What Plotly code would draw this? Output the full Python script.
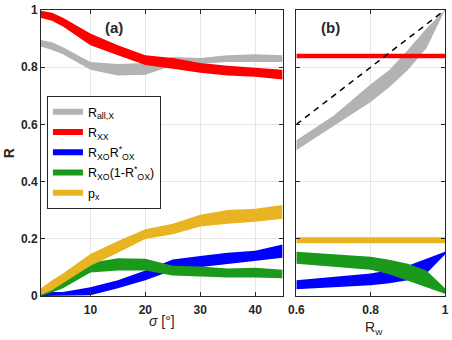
import plotly.graph_objects as go

##########
# Data   #
##########
# panel (a): sigma in degrees
sigma = [1, 3, 5, 10, 15, 20, 25, 30, 35, 40, 45]

r_all_hi = [0.895, 0.887, 0.870, 0.818, 0.811, 0.815, 0.836, 0.832, 0.842, 0.845, 0.842]
r_all_lo = [0.872, 0.860, 0.845, 0.791, 0.771, 0.774, 0.805, 0.812, 0.818, 0.818, 0.818]

r_xx_hi = [0.997, 0.990, 0.973, 0.918, 0.877, 0.842, 0.832, 0.815, 0.805, 0.798, 0.791]
r_xx_lo = [0.972, 0.962, 0.942, 0.877, 0.842, 0.808, 0.795, 0.781, 0.771, 0.767, 0.757]

r_xo_hi = [0.014, 0.014, 0.014, 0.031, 0.055, 0.089, 0.128, 0.140, 0.151, 0.158, 0.180]
r_xo_lo = [0.000, 0.000, 0.000, 0.003, 0.027, 0.055, 0.090, 0.103, 0.113, 0.123, 0.134]

r_xo1_hi = [0.010, 0.030, 0.048, 0.116, 0.132, 0.130, 0.106, 0.103, 0.096, 0.099, 0.092]
r_xo1_lo = [0.000, 0.012, 0.027, 0.082, 0.089, 0.089, 0.072, 0.068, 0.065, 0.065, 0.062]

p_x_hi = [0.027, 0.055, 0.079, 0.147, 0.192, 0.233, 0.253, 0.284, 0.301, 0.305, 0.318]
p_x_lo = [0.004, 0.020, 0.045, 0.106, 0.151, 0.199, 0.216, 0.243, 0.253, 0.260, 0.270]

# panel (b): R_w
rw = [0.6, 0.7, 0.8, 0.85, 0.9, 0.95, 1.0]

b_all_hi = [0.545, 0.630, 0.740, 0.790, 0.860, 0.935, 1.0]
b_all_lo = [0.510, 0.595, 0.678, 0.730, 0.790, 0.866, 1.0]

b_xx = [0.839] * len(rw)
b_px = [0.195] * len(rw)

b_xo_hi = [0.055, 0.066, 0.079, 0.090, 0.106, 0.130, 0.155]
b_xo_lo = [0.024, 0.030, 0.038, 0.045, 0.055, 0.079, 0.145]

b_xo1_hi = [0.155, 0.147, 0.137, 0.127, 0.113, 0.089, 0.027]
b_xo1_lo = [0.113, 0.103, 0.092, 0.076, 0.055, 0.031, 0.008]

diag = [0.6, 1.0]

##########
# Colors #
##########
colors = {
    'all': '#b3b3b3',
    'xx': '#ff0000',
    'xo': '#0000ff',
    'xo1': '#1a991a',
    'px': '#e8b422',
}

names = {
    'all': 'R<sub>all,X</sub>',
    'xx': 'R<sub>XX</sub>',
    'xo': 'R<sub>XO</sub>R<sup>*</sup><sub>OX</sub>',
    'xo1': 'R<sub>XO</sub>(1-R<sup>*</sup><sub>OX</sub>)',
    'px': 'p<sub>x</sub>',
}


def band(x, hi, lo, color, xa, ya):
    return go.Scatter(
        x = x + x[::-1], y = hi + lo[::-1],
        fill = 'toself', fillcolor = color, mode = 'lines',
        line = dict(width = 0, color = color),
        xaxis = xa, yaxis = ya, showlegend = False, hoverinfo = 'skip',
    )


fig = go.Figure()

# panel (a)
fig.add_trace(band(sigma, r_all_hi, r_all_lo, colors['all'], 'x', 'y'))
fig.add_trace(band(sigma, r_xx_hi, r_xx_lo, colors['xx'], 'x', 'y'))
fig.add_trace(band(sigma, r_xo_hi, r_xo_lo, colors['xo'], 'x', 'y'))
fig.add_trace(band(sigma, r_xo1_hi, r_xo1_lo, colors['xo1'], 'x', 'y'))
fig.add_trace(band(sigma, p_x_hi, p_x_lo, colors['px'], 'x', 'y'))

# panel (b)
fig.add_trace(band(rw, b_all_hi, b_all_lo, colors['all'], 'x2', 'y2'))
fig.add_trace(go.Scatter(x = rw, y = b_xx, mode = 'lines', line = dict(color = colors['xx'], width = 4.5),
                         xaxis = 'x2', yaxis = 'y2', showlegend = False))
fig.add_trace(band(rw, b_xo_hi, b_xo_lo, colors['xo'], 'x2', 'y2'))
fig.add_trace(band(rw, b_xo1_hi, b_xo1_lo, colors['xo1'], 'x2', 'y2'))
fig.add_trace(go.Scatter(x = rw, y = b_px, mode = 'lines', line = dict(color = colors['px'], width = 6),
                         xaxis = 'x2', yaxis = 'y2', showlegend = False))
fig.add_trace(go.Scatter(x = diag, y = diag, mode = 'lines', line = dict(color = 'black', width = 1.5, dash = '6px,5px'),
                         xaxis = 'x2', yaxis = 'y2', showlegend = False))

# legend entries (one group each so tracegroupgap spaces them)
for k in ['all', 'xx', 'xo', 'xo1', 'px']:
    fig.add_trace(go.Scatter(x = [None], y = [None], mode = 'lines', name = names[k], legendgroup = k,
                             line = dict(color = colors[k], width = 6), xaxis = 'x', yaxis = 'y'))

axis_style = dict(
    showline = True, linecolor = '#262626', linewidth = 1, mirror = 'allticks',
    ticks = 'inside', ticklen = 4, tickcolor = '#262626',
    showgrid = True, gridcolor = '#e6e6e6', zeroline = False,
    tickfont = dict(family = 'Liberation Sans, Arial', size = 12, color = '#262626'),
    ticklabeloverflow = 'allow',
)

W, H = 452, 340
L, R, T, B = 41, 3, 4, 44
pw, ph = W - L - R, H - T - B


def px(xp, yp):
    # pixel position -> paper coordinates
    return (xp - L) / pw, (H - B - yp) / ph


ann = []
for text, xp, yp, size, angle in [
    ('<b>(a)</b>', 115, 22, 15, 0),
    ('<b>(b)</b>', 333, 22, 15, 0),
    ('<b>R</b>', 9, 150, 14, -90),
    ('<i>σ</i> [°]', 163, 322, 14, 0),
    ('R<sub>w</sub>', 377, 329, 14, 0),
]:
    xx, yy = px(xp, yp)
    ann.append(dict(text = text, x = xx, y = yy, xref = 'paper', yref = 'paper', showarrow = False,
                    xanchor = 'center', yanchor = 'middle',
                    font = dict(size = size, color = '#262626'), textangle = angle))

lx, ly = px(47, 92)

fig.update_layout(
    width = W, height = H,
    margin = dict(l = L, r = R, t = T, b = B),
    plot_bgcolor = 'white', paper_bgcolor = 'white',
    font = dict(family = 'Liberation Sans, Arial', color = '#262626'),
    xaxis = dict(domain = [0, 0.598], range = [1, 45], tickvals = [10, 20, 30, 40],
                 ticktext = ['<b>10</b>', '<b>20</b>', '<b>30</b>', '<b>40</b>'],
                 ticklabelstandoff = 3, **axis_style),
    yaxis = dict(domain = [0, 1], range = [0, 1], tickvals = [0, 0.2, 0.4, 0.6, 0.8, 1],
                 ticktext = ['<b>0</b>', '<b>0.2</b>', '<b>0.4</b>', '<b>0.6</b>', '<b>0.8</b>', '<b>1</b>'], **axis_style),
    xaxis2 = dict(domain = [0.632, 1], range = [0.6, 1], tickvals = [0.6, 0.8, 1],
                  ticktext = ['<b>0.6</b>', '<b>0.8</b>', '<b>1</b>'], anchor = 'y2',
                  ticklabelstandoff = 3, **axis_style),
    yaxis2 = dict(domain = [0, 1], range = [0, 1], tickvals = [0, 0.2, 0.4, 0.6, 0.8, 1],
                  showticklabels = False, anchor = 'x2', **axis_style),
    legend = dict(
        x = lx, y = ly, xanchor = 'left', yanchor = 'top',
        bgcolor = 'white', bordercolor = '#262626', borderwidth = 1,
        font = dict(size = 12.5, color = 'black'), tracegroupgap = 1,
    ),
    annotations = ann,
)

fig.write_html('out.html', config = dict(displayModeBar = False),
               post_script = "document.body.style.margin='0';document.body.style.overflow='hidden';")
